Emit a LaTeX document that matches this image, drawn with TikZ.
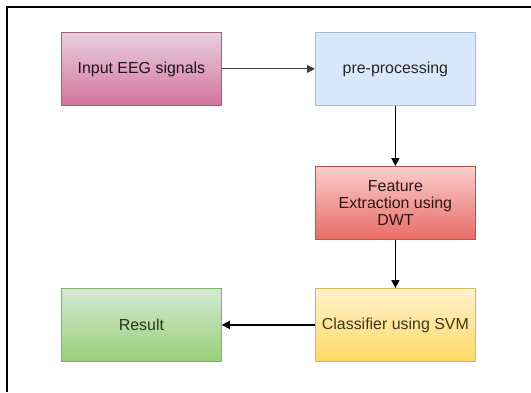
\documentclass[tikz,border=0pt]{standalone}
\usepackage{fontspec}
\setmainfont{Liberation Sans}
\usetikzlibrary{arrows.meta,shadings}
\begin{document}
\begin{tikzpicture}[x=1bp,y=-1bp,
  box/.style={draw, line width=0.8bp, minimum width=160bp, minimum height=73bp,
    inner sep=0pt, align=center, anchor=north west,
    font=\fontsize{16}{17}\selectfont},
  conn/.style={-{Triangle[length=8bp,width=8bp]}, line width=1.5bp, black}]
\useasboundingbox (0,0) rectangle (531,392);
\fill[white] (0,0) rectangle (531,392);
\draw[line width=2bp] (7,392) -- (7,7) -- (531,7);
\definecolor{pinkT}{HTML}{E6D0DE}\definecolor{pinkB}{HTML}{D5739D}\definecolor{pinkS}{HTML}{996185}
\definecolor{blueF}{HTML}{DAE8FC}\definecolor{blueS}{HTML}{6C8EBF}
\definecolor{redT}{HTML}{F8CECC}\definecolor{redB}{HTML}{EA6B66}\definecolor{redS}{HTML}{B85450}
\definecolor{yelT}{HTML}{FFF2CC}\definecolor{yelB}{HTML}{FFD966}\definecolor{yelS}{HTML}{D6B656}
\definecolor{grnT}{HTML}{D5E8D4}\definecolor{grnB}{HTML}{97D077}\definecolor{grnS}{HTML}{82B366}
\node[box, draw=pinkS, top color=pinkT, bottom color=pinkB, text=black!80!pinkS] (inp) at (61,32) {Input EEG signals};
\node[box, draw=blueS!60, fill=blueF, text=black!85] (pre) at (315,32) {pre-processing};
\node[box, draw=redS, top color=redT, bottom color=redB, text=black!75!redS] (fe) at (315,166) {Feature\\Extraction using\\DWT};
\node[box, draw=yelS, top color=yelT, bottom color=yelB, text=black!70!yelS] (cls) at (315,288) {Classifier using SVM};
\node[box, draw=grnS, top color=grnT, bottom color=grnB, text=black!70!grnS] (res) at (61,288) {Result};
\draw[conn, line width=1bp, black!75] (inp) -- (pre);
\draw[conn] (pre) -- (fe);
\draw[conn] (fe) -- (cls);
\draw[conn] (cls) -- (res);
\end{tikzpicture}
\end{document}
